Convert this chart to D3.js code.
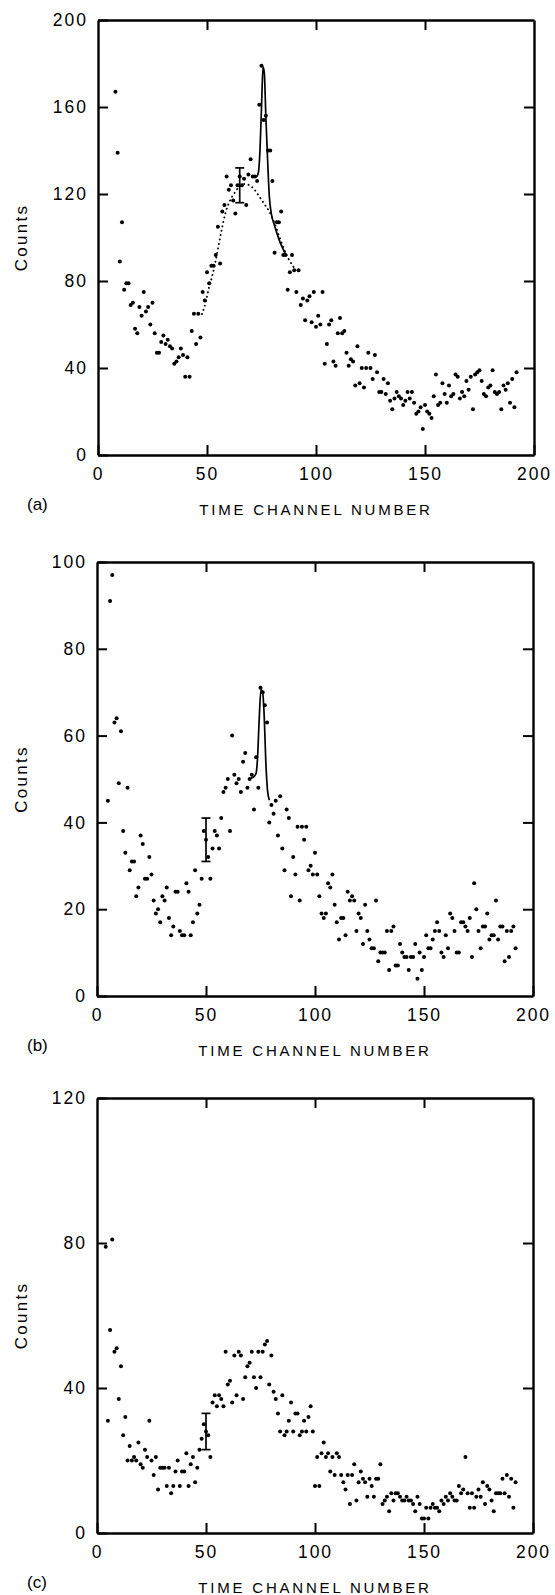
<!DOCTYPE html>
<html><head><meta charset="utf-8">
<script src="https://cdn.jsdelivr.net/npm/d3@7"></script>
<style>body{margin:0;background:#fff}</style>
</head><body>
<svg id="chart" width="555" height="1595"></svg>
<script>
// ---------------- data ----------------
const xTickValues = [0, 50, 100, 150, 200];
const panelLabels = ["(a)", "(b)", "(c)"];
const xTitle = "TIME CHANNEL NUMBER";
const yTitle = "Counts";
const yTicksA = [0, 40, 80, 120, 160, 200];
const yTicksB = [0, 20, 40, 60, 80, 100];
const yTicksC = [0, 40, 80, 120];

const startA = 8;
const countsA = [
  167,139,89,107,76,79,79,69,70,58,
  56,68,64,75,66,68,60,70,56,47,
  47,52,55,51,53,50,49,42,43,45,
  49,46,36,45,36,57,65,51,65,54,
  75,71,84,79,87,87,92,105,88,112,
  115,128,122,124,117,111,124,128,124,127,
  115,129,136,128,128,126,161,179,154,156,
  140,140,126,93,107,107,112,92,92,76,
  84,92,85,75,85,69,72,62,71,73,
  61,75,59,64,
  60,75,42,51,60,62,43,41,56,63,
  56,57,47,41,44,43,32,50,33,40,
  31,40,47,40,35,46,38,29,29,35,
  28,33,25,21,26,29,27,26,23,25,
  29,26,29,24,19,20,22,12,23,20,
  19,17,27,37,23,24,33,28,24,32,
  27,28,37,36,26,29,27,34,30,36,
  21,37,38,39,34,28,27,31,32,39,
  29,28,29,21,32,30,33,24,35,22,38
];

const startB = 5;
const countsB = [
  45,91,97,63,64,49,61,38,33,48,
  29,31,31,23,25,37,35,27,27,32,
  28,22,19,20,17,23,22,25,18,14,
  16,24,24,15,14,14,26,24,14,17,
  29,19,21,27,38,36,32,27,34,38,
  37,34,41,47,48,50,38,60,51,49,
  50,47,54,56,48,50,51,43,55,48,
  71,70,67,63,40,44,42,45,37,46,
  34,29,43,41,23,32,28,39,22,39,
  36,39,29,30,28,33,28,23,19,18,
  19,26,25,28,21,17,13,18,18,14,
  24,22,23,22,15,19,18,12,21,15,
  13,11,11,22,8,10,10,10,15,6,
  15,16,7,7,12,10,9,9,6,9,
  9,12,4,10,6,9,14,11,11,13,
  15,17,15,10,9,14,11,19,18,15,
  10,10,17,17,16,15,18,9,26,20,
  15,11,16,16,19,13,14,14,22,13,
  16,16,8,15,9,15,16,11
];

const startC = 4;
const countsC = [
  79,31,56,81,50,51,37,46,27,32,
  20,24,20,21,20,25,19,18,23,21,
  31,20,16,21,12,18,18,18,13,18,
  11,13,17,20,13,17,17,22,13,19,
  21,14,18,23,26,30,28,27,21,36,
  38,35,38,37,35,50,41,42,36,49,
  38,50,49,37,43,46,47,50,43,40,
  50,43,50,52,53,41,49,39,37,33,
  28,38,27,28,31,36,28,33,33,27,
  28,31,28,32,35,28,13,21,13,22,
  25,21,22,17,21,16,22,21,16,14,
  12,16,8,16,19,9,14,17,15,14,
  10,15,13,10,15,15,19,8,9,10,
  6,11,9,11,11,10,9,9,10,9,
  9,8,6,10,8,4,4,7,4,7,
  8,7,7,6,9,8,10,9,11,10,
  9,9,13,11,12,21,11,7,11,7,
  10,12,10,14,8,13,12,9,6,11,
  11,11,15,11,16,10,15,7,14
];

// fitted curves
const fitSolidAX = [70.5,72.6,73.5,74.3,75.1,75.7,76.3,77.0,77.8,78.6,79.5,80.9,83.1,86.2];
const fitSolidAY = [128,128,129.5,140,163,178.5,175.6,155.5,135.6,118.8,111,105.7,98.9,92];
const fitDotAX = [47.7,49.6,50.8,52.3,53.7,55.2,56.7,58.4,60.3,62.5,64.8,67.1,69.4,71.7,74.0,76.3,78.6,81.0,83.5,86.5,89.0,90.8];
const fitDotAY = [64.8,71,76.6,82,88,95.8,103.4,111,116.5,120.3,123.4,124.6,124.1,122.1,118.8,115.4,111.9,106.5,99.5,92,87.5,85];
const fitSolidBX = [70.6,72.1,73.0,73.6,74.4,75.2,75.9,76.7,77.4,78.2,79.1];
const fitSolidBY = [50.2,50.6,51.4,54.5,63.7,70.6,70.2,64.5,54.5,47.5,45.1];

// error bars: [channel, low, high]
const errA = [65, 116, 132];
const errB = [50, 31, 41];
const errC = [50, 23, 33];

// ---------------- drawing ----------------
const svg = d3.select("#chart");
const FONT = "'Liberation Sans', Arial, Helvetica, sans-serif";

const panels = [
  {counts: countsA, start: startA, yMax: 200, yTicks: yTicksA, top: 20, bottom: 455, left: 98, right: 534,
   label: panelLabels[0], solid: [fitSolidAX, fitSolidAY], dotted: [fitDotAX, fitDotAY], err: errA},
  {counts: countsB, start: startB, yMax: 100, yTicks: yTicksB, top: 562, bottom: 996, left: 97, right: 533,
   label: panelLabels[1], solid: [fitSolidBX, fitSolidBY], dotted: null, err: errB},
  {counts: countsC, start: startC, yMax: 120, yTicks: yTicksC, top: 1098, bottom: 1533, left: 97, right: 533,
   label: panelLabels[2], solid: null, dotted: null, err: errC}
];

function styleAxis(g) {
  g.selectAll("path.domain").attr("stroke", "#000").attr("stroke-width", 2.4);
  g.selectAll(".tick line").attr("stroke", "#000").attr("stroke-width", 2);
  g.selectAll("text").attr("font-family", FONT).attr("font-size", 17.5)
    .attr("letter-spacing", 2).attr("fill", "#000");
}

panels.forEach(p => {
  const x = d3.scaleLinear().domain([0, 200]).range([p.left, p.right]);
  const y = d3.scaleLinear().domain([0, p.yMax]).range([p.bottom, p.top]);
  const inner = p.yTicks.filter(v => v > 0 && v < p.yMax);

  const g = svg.append("g");

  g.append("g").attr("transform", `translate(0,${p.bottom})`)
    .call(d3.axisBottom(x).tickValues(xTickValues).tickSizeInner(-10).tickSizeOuter(0).tickPadding(13))
    .call(styleAxis);
  g.append("g").attr("transform", `translate(0,${p.top})`)
    .call(d3.axisTop(x).tickValues([50, 100, 150]).tickSizeInner(-10).tickSizeOuter(0).tickFormat(""))
    .call(styleAxis);
  g.append("g").attr("transform", `translate(${p.left},0)`)
    .call(d3.axisLeft(y).tickValues(p.yTicks).tickSizeInner(-10).tickSizeOuter(0).tickPadding(10))
    .call(styleAxis);
  g.append("g").attr("transform", `translate(${p.right},0)`)
    .call(d3.axisRight(y).tickValues(inner).tickSizeInner(-10).tickSizeOuter(0).tickFormat(""))
    .call(styleAxis);

  // y title
  g.append("text")
    .attr("transform", `translate(27,${(p.top + p.bottom) / 2}) rotate(-90)`)
    .attr("text-anchor", "middle")
    .attr("font-family", FONT).attr("font-size", 17).attr("letter-spacing", 2.3)
    .text(yTitle);

  // x title
  g.append("text")
    .attr("x", (p.left + p.right) / 2).attr("y", p.bottom + 60)
    .attr("text-anchor", "middle")
    .attr("font-family", FONT).attr("font-size", 15).attr("letter-spacing", 2.8)
    .text(xTitle);

  // panel label
  g.append("text")
    .attr("x", 27).attr("y", p.bottom + 55)
    .attr("font-family", FONT).attr("font-size", 17)
    .text(p.label);

  // fitted curves
  const line = d3.line().x(d => x(d[0])).y(d => y(d[1])).curve(d3.curveMonotoneX);
  if (p.dotted) {
    const pts = p.dotted[0].map((v, i) => [v, p.dotted[1][i]]);
    g.append("path").attr("d", line(pts)).attr("fill", "none").attr("stroke", "#000")
      .attr("stroke-width", 1.9).attr("stroke-linecap", "round").attr("stroke-dasharray", "0.1,4.4");
  }
  if (p.solid) {
    const pts = p.solid[0].map((v, i) => [v, p.solid[1][i]]);
    g.append("path").attr("d", line(pts)).attr("fill", "none").attr("stroke", "#000")
      .attr("stroke-width", 1.7);
  }

  // error bar
  const [ec, elo, ehi] = p.err;
  const eg = g.append("g").attr("stroke", "#000").attr("stroke-width", 1.7);
  eg.append("line").attr("x1", x(ec)).attr("x2", x(ec)).attr("y1", y(elo)).attr("y2", y(ehi));
  eg.append("line").attr("x1", x(ec) - 4.5).attr("x2", x(ec) + 4.5).attr("y1", y(elo)).attr("y2", y(elo));
  eg.append("line").attr("x1", x(ec) - 4.5).attr("x2", x(ec) + 4.5).attr("y1", y(ehi)).attr("y2", y(ehi));

  // data points
  g.append("g").selectAll("circle")
    .data(p.counts)
    .join("circle")
    .attr("cx", (d, i) => x(p.start + i))
    .attr("cy", d => y(d))
    .attr("r", 2.0)
    .attr("fill", "#000");
});
</script>
</body></html>
